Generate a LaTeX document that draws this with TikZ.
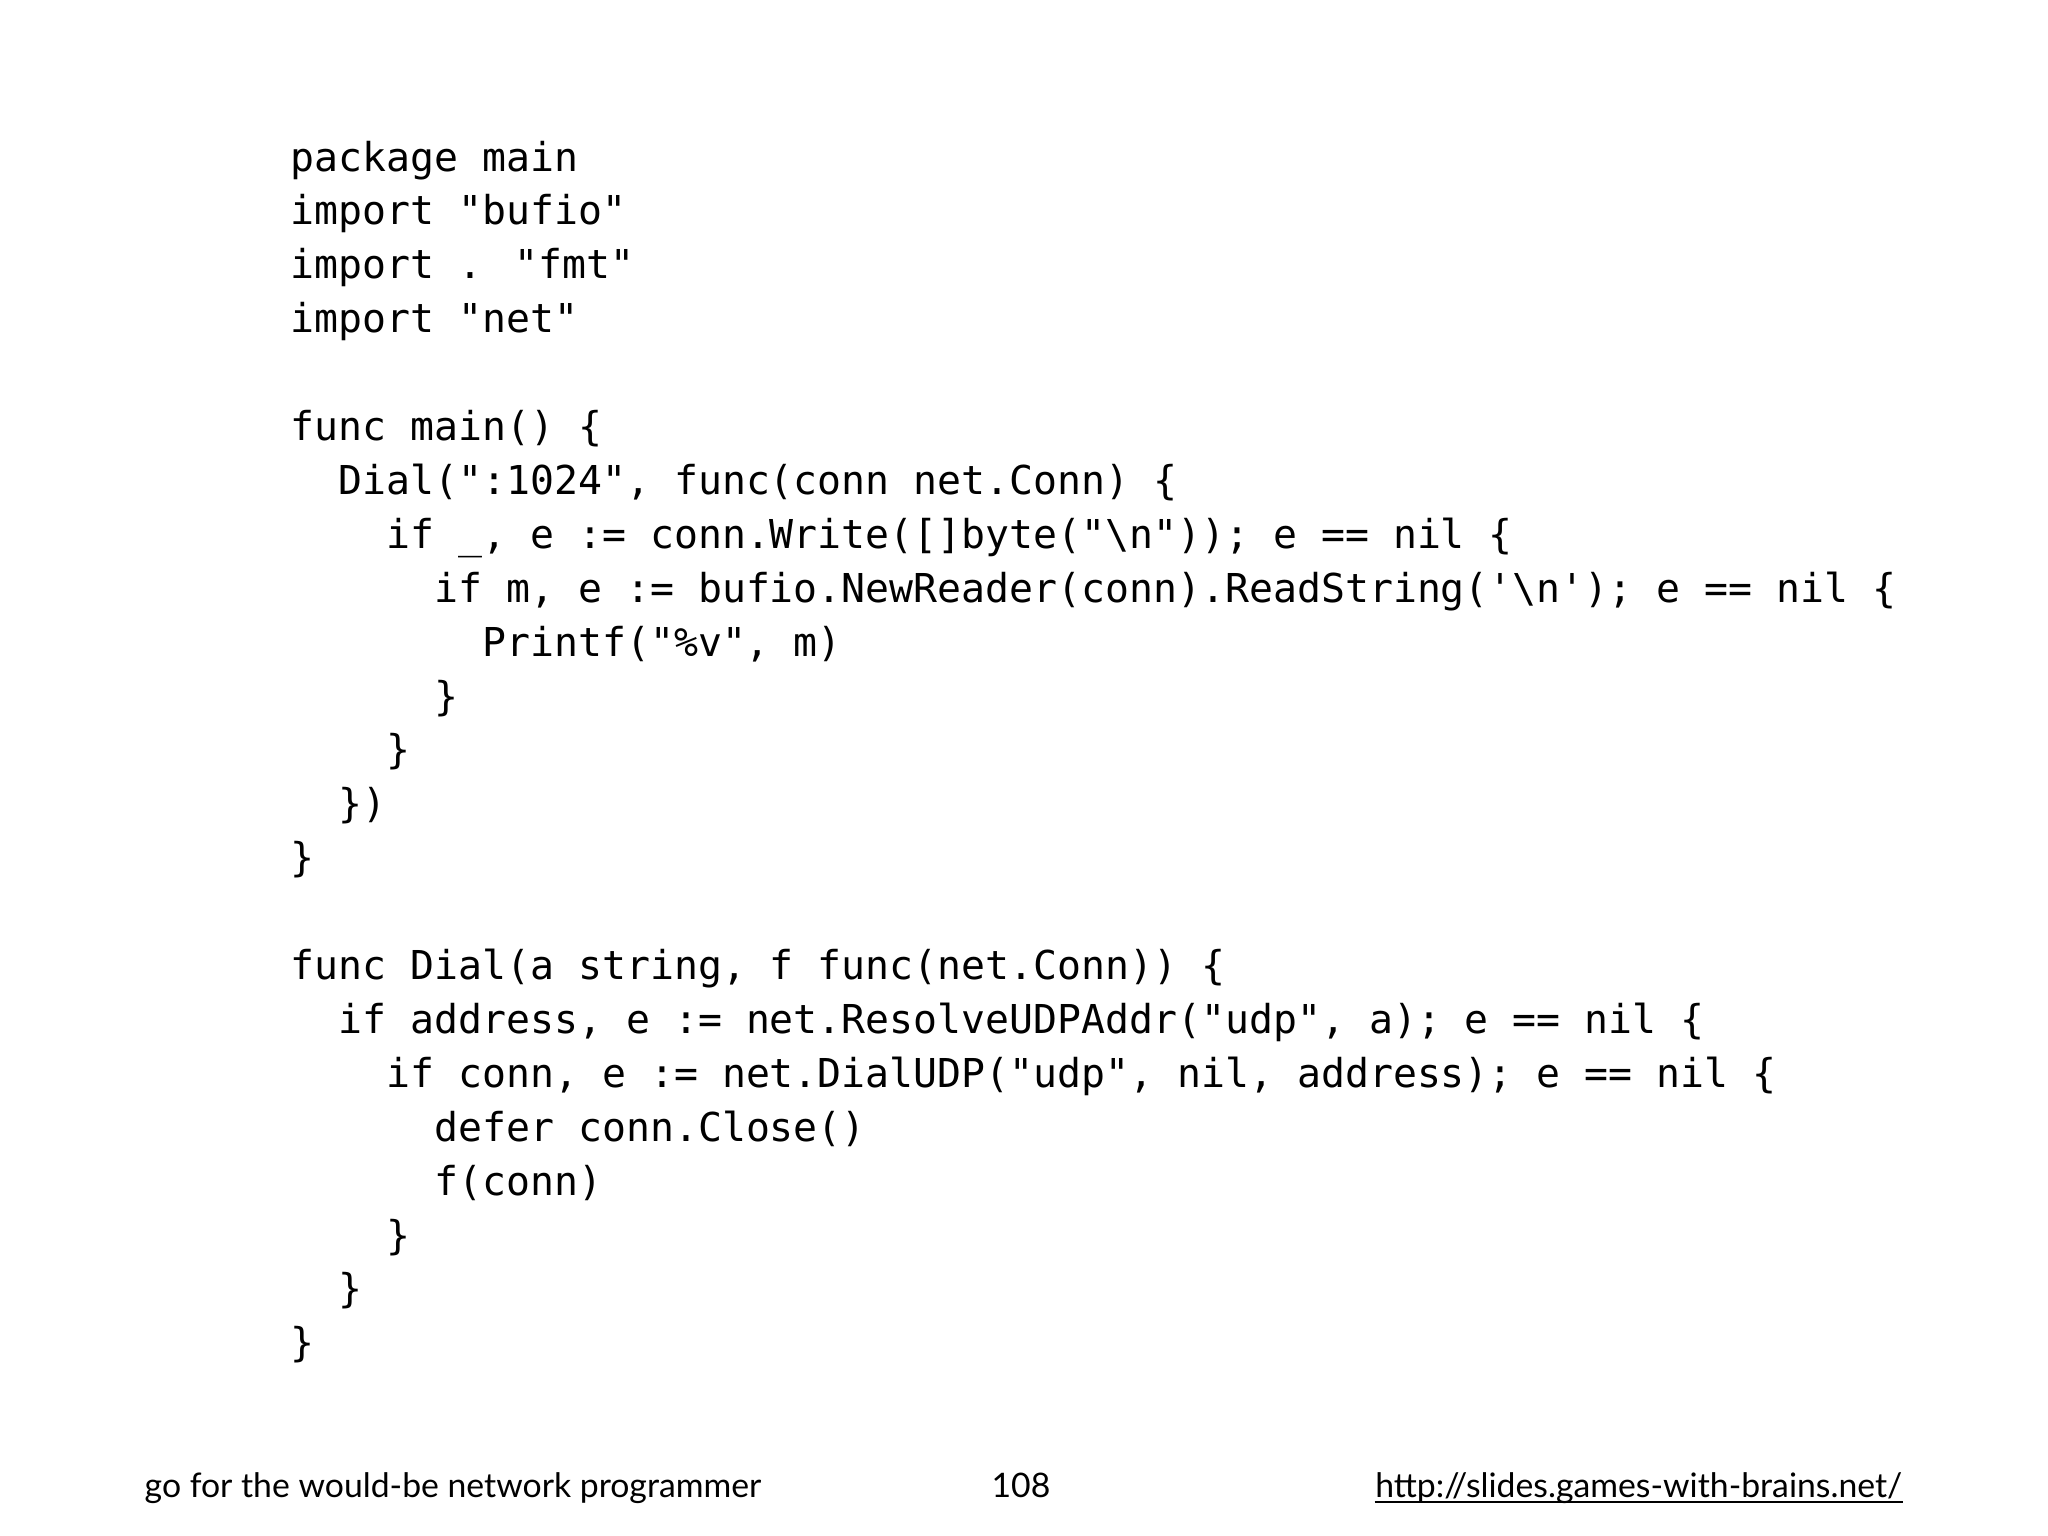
\documentclass[tikz,border=0pt]{standalone}
\usepackage{fontspec}
\newfontfamily\codefont{DejaVu Sans Mono}
\newfontfamily\footfont{Lato}
\begin{document}
\begin{tikzpicture}[x=0.01cm,y=-0.01cm,
  code/.style={anchor=base west, inner sep=0pt, font=\codefont\fontsize{11.32}{13}\selectfont},
  foot/.style={inner sep=0pt, font=\footfont\fontsize{9.6}{11}\selectfont}]
\useasboundingbox (0,0) rectangle (2048,1536);
\def\lx{290}
\def\cw{23.96}
\def\ls{53.9}
\def\by{171}
\node[code] (l1)  at (\lx+0*\cw, \by+0*\ls)  {package main};
\node[code] (l2)  at (\lx+0*\cw, \by+1*\ls)  {import "bufio"};
\node[code] (l3)  at (\lx+0*\cw, \by+2*\ls)  {import . "fmt"};
\node[code] (l4)  at (\lx+0*\cw, \by+3*\ls)  {import "net"};
\node[code] (l6)  at (\lx+0*\cw, \by+5*\ls)  {func main() \{};
\node[code] (l7)  at (\lx+2*\cw, \by+6*\ls)  {Dial(":1024", func(conn net.Conn) \{};
\node[code] (l8)  at (\lx+4*\cw, \by+7*\ls)  {if \_, e := conn.Write([]byte("\textbackslash n")); e == nil \{};
\node[code] (l9)  at (\lx+6*\cw, \by+8*\ls)  {if m, e := bufio.NewReader(conn).ReadString('\textbackslash n'); e == nil \{};
\node[code] (l10) at (\lx+8*\cw, \by+9*\ls)  {Printf("\%v", m)};
\node[code] (l11) at (\lx+6*\cw, \by+10*\ls) {\}};
\node[code] (l12) at (\lx+4*\cw, \by+11*\ls) {\}};
\node[code] (l13) at (\lx+2*\cw, \by+12*\ls) {\})};
\node[code] (l14) at (\lx+0*\cw, \by+13*\ls) {\}};
\node[code] (l16) at (\lx+0*\cw, \by+15*\ls) {func Dial(a string, f func(net.Conn)) \{};
\node[code] (l17) at (\lx+2*\cw, \by+16*\ls) {if address, e := net.ResolveUDPAddr("udp", a); e == nil \{};
\node[code] (l18) at (\lx+4*\cw, \by+17*\ls) {if conn, e := net.DialUDP("udp", nil, address); e == nil \{};
\node[code] (l19) at (\lx+6*\cw, \by+18*\ls) {defer conn.Close()};
\node[code] (l20) at (\lx+6*\cw, \by+19*\ls) {f(conn)};
\node[code] (l21) at (\lx+4*\cw, \by+20*\ls) {\}};
\node[code] (l22) at (\lx+2*\cw, \by+21*\ls) {\}};
\node[code] (l23) at (\lx+0*\cw, \by+22*\ls) {\}};
\node[foot, anchor=base west] (f1) at (144,1497) {go for the would-be network programmer};
\node[foot, anchor=base] (f2) at (1021,1497) {108};
\node[foot, anchor=base east] (f3) at (1903,1497) {http://slides.games-with-brains.net/};
\draw[line width=0.6pt] ([yshift=-1.5pt]f3.base west) -- ([yshift=-1.5pt]f3.base east);
\end{tikzpicture}
\end{document}
